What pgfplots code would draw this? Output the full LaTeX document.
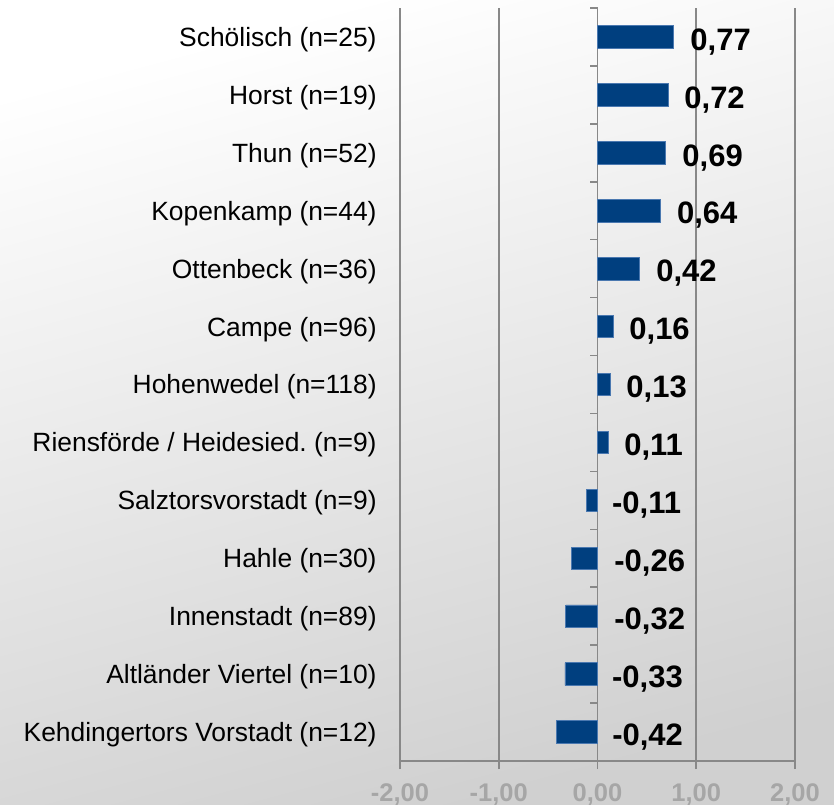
\documentclass[border=0pt]{standalone}
\usepackage{fontspec}
\setmainfont{Liberation Sans}
\usepackage{pgfplots}
\usepackage{pgfplotstable}
\pgfplotsset{compat=1.18}
\definecolor{barblue}{HTML}{003F7F}
\definecolor{baredge}{HTML}{4A78B0}
\definecolor{gridgray}{HTML}{888888}
\definecolor{ticktext}{HTML}{A6A6A6}
\definecolor{bgbottom}{HTML}{D0D0D0}
\frenchspacing

% y = position from the bottom, val = mean, lx = where the label starts
\pgfplotstableread{
y val lx lab
0 -0.42 0.146 -0,42
1 -0.33 0.144 -0,33
2 -0.32 0.167 -0,32
3 -0.26 0.167 -0,26
4 -0.11 0.144 -0,11
5 0.11 0.268 0,11
6 0.13 0.289 0,13
7 0.16 0.319 0,16
8 0.42 0.592 0,42
9 0.64 0.802 0,64
10 0.69 0.856 0,69
11 0.72 0.876 0,72
12 0.77 0.937 0,77
}\bars

\begin{document}
\begin{tikzpicture}
\shade[top color=white, bottom color=bgbottom, shading angle=15]
  (-200pt,-21.5pt) rectangle (217pt,380.5pt);
\begin{axis}[
    at={(0,0)}, anchor=south west,
    scale only axis,
    width=197.5pt, height=376.5pt,
    xmin=-2, xmax=2,
    ymin=-0.5, ymax=12.5,
    axis lines*=left,
    axis line style={gridgray, line width=0.8pt},
    xmajorgrids,
    grid style={gridgray, line width=0.8pt},
    xtick={-2,-1,0,1,2},
    xticklabels={{-2,00},{-1,00},{0,00},{1,00},{2,00}},
    xtick align=outside,
    ytick align=inside,
    major tick length=4pt,
    x tick style={gridgray, line width=0.8pt},
    y tick style={draw=none},
    ytick={0,...,12},
    yticklabels={
        Kehdingertors Vorstadt (n=12),
        Altländer Viertel (n=10),
        Innenstadt (n=89),
        Hahle (n=30),
        Salztorsvorstadt (n=9),
        Riensförde / Heidesied. (n=9),
        Hohenwedel (n=118),
        Campe (n=96),
        Ottenbeck (n=36),
        Kopenkamp (n=44),
        Thun (n=52),
        Horst (n=19),
        Schölisch (n=25)},
    xticklabel style={font=\fontsize{12.75}{14}\selectfont\bfseries, text=ticktext,
        inner sep=0pt, anchor=north, yshift=-7pt},
    yticklabel style={font=\fontsize{13.2}{15}\selectfont, inner sep=0pt,
        anchor=east, xshift=-11.5pt, yshift=-1.3pt},
    clip=false,
]
\addplot[xbar, bar width=11.25pt, fill=barblue, draw=baredge, line width=0.4pt]
    table[x=val, y=y] {\bars};
\addplot[only marks, mark=none, point meta=explicit symbolic,
    nodes near coords, nodes near coords align={anchor=west},
    every node near coord/.style={inner sep=0pt, anchor=west, yshift=-2.4pt,
        font=\fontsize{15.5}{17}\selectfont\bfseries, text=black}]
    table[x=lx, y=y, meta=lab] {\bars};
\end{axis}
% short ticks on the zero line between the categories
\foreach \k in {0,...,13}
  \draw[gridgray, line width=0.8pt] (98.75pt,{\k*28.9615pt}) -- ++(-4pt,0pt);
\pgfresetboundingbox
\useasboundingbox (-200pt,-21.5pt) rectangle (217pt,380.5pt);
\end{tikzpicture}
\end{document}
